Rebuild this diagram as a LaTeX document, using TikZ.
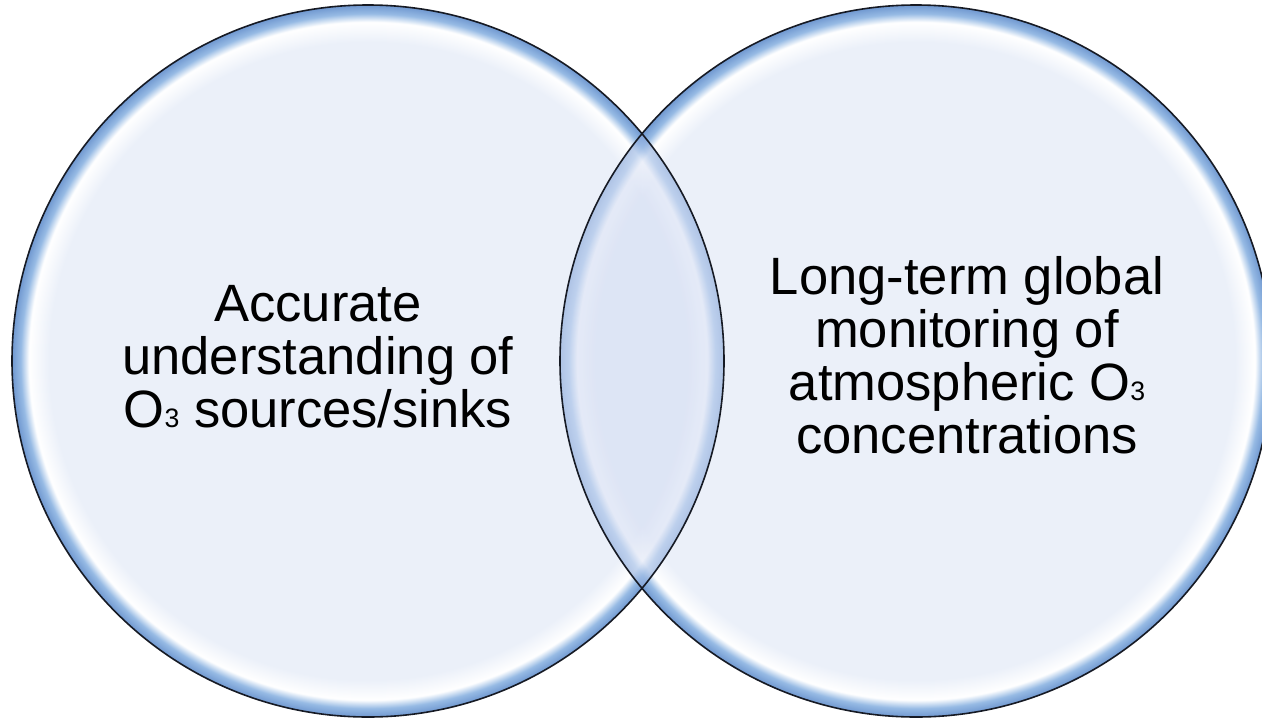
\documentclass[tikz,border=0pt]{standalone}
\usepackage{fontspec}
\setmainfont{Liberation Sans}
\usetikzlibrary{positioning}
\definecolor{vennpale}{RGB}{235,240,249}
\definecolor{vennrim}{RGB}{150,186,228}
\definecolor{vennedge}{RGB}{112,152,208}
\definecolor{venntint}{RGB}{180,195,235}
\definecolor{vennline}{RGB}{22,26,36}
% glassy disc: pale body, white glint, blue rim
\pgfdeclareradialshading{vennglass}{\pgfpointorigin}{%
 color(0bp)=(vennpale); color(22.4bp)=(vennpale);
 color(23.8bp)=(white); color(24.4bp)=(vennrim);
 color(25bp)=(vennedge); color(50bp)=(vennedge)}
\newcommand{\ozone}{O{\fontsize{20pt}{20pt}\selectfont 3}}

\begin{document}
\begin{tikzpicture}[x=0.75pt,y=-0.75pt,line cap=round,line join=round,
 disc/.style={shading=vennglass},
 rimline/.style={draw=vennline,line width=1.2pt},
 label/.style={font=\fontsize{39.4pt}{39.75pt}\selectfont,align=center,
  inner sep=0pt,anchor=base}]
 \useasboundingbox (0,0) rectangle (1262,718);
 \coordinate (cl) at (368,361);
 \coordinate (cr) at (916,361);
 \def\rad{267pt}
 % the two discs
 \shade[disc] (cl) circle[radius=\rad];
 \shade[disc] (cr) circle[radius=\rad];
 % overlap: let the left disc show through, then darken a little
 \begin{scope}
  \clip (cr) circle[radius=\rad];
  \shade[disc,fill opacity=.5] (cl) circle[radius=\rad];
  \fill[venntint,fill opacity=.24] (cl) circle[radius=\rad];
 \end{scope}
 \draw[rimline] (cl) circle[radius=\rad];
 \draw[rimline] (cr) circle[radius=\rad];
 % labels (anchored on the last baseline)
 \node[label] (txtleft) at (318,427)
  {Accurate\\understanding of\\\ozone{} sources/sinks};
 \node[label] (txtright) at (967,453)
  {Long-term global\\monitoring of\\atmospheric \ozone\\concentrations};
\end{tikzpicture}
\end{document}
